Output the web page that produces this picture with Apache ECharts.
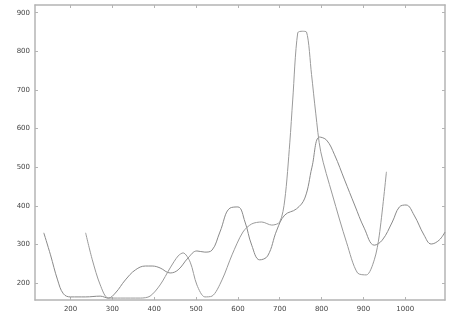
<!DOCTYPE html>
<html>
<head>
<meta charset="utf-8">
<script src="https://cdn.jsdelivr.net/npm/echarts@6/dist/echarts.min.js"></script>
<style>
  html, body { margin: 0; padding: 0; background: #fff; }
  #chart { width: 449px; height: 320px; }
</style>
</head>
<body>
<div id="chart"></div>
<script>
// tick labels
var xTicks = [200, 300, 400, 500, 600, 700, 800, 900, 1000];
var yTicks = [200, 300, 400, 500, 600, 700, 800, 900];

// first curve (smooth, runs to the right edge)
var s1x = [136, 152, 169, 183, 200, 236, 271, 290, 307, 331, 355, 379, 395, 414, 438, 457, 481, 502, 521, 538, 557, 581, 600, 617, 633, 652, 671, 693, 712, 740, 760, 777, 795, 812, 831, 855, 879, 902, 926, 945, 969, 986, 1002, 1021, 1045, 1062, 1081, 1095];
var s1y = [330, 273, 208, 172, 164, 164, 166, 161, 174, 208, 234, 244, 244, 239, 226, 234, 265, 283, 280, 285, 332, 394, 397, 358, 298, 260, 270, 337, 376, 392, 420, 500, 578, 570, 532, 467, 402, 342, 298, 311, 358, 397, 402, 376, 324, 301, 311, 332];

// second curve (sharp peak near 750)
var s2x = [236, 252, 271, 290, 319, 367, 390, 414, 438, 457, 469, 486, 502, 521, 538, 562, 586, 612, 633, 657, 681, 700, 712, 724, 731, 743, 754, 764, 776, 786, 798, 826, 860, 886, 907, 926, 938, 955];
var s2y = [330, 260, 195, 161, 161, 161, 166, 195, 239, 270, 278, 254, 195, 164, 166, 208, 273, 332, 353, 358, 350, 358, 415, 563, 674, 848, 852, 850, 740, 640, 540, 428, 304, 226, 221, 260, 324, 488];

function pairs(xs, ys) {
  var out = [];
  for (var i = 0; i < xs.length; i++) out.push([xs[i], ys[i]]);
  return out;
}

var frame = { show: true, lineStyle: { color: '#b4b4b4', width: 1.5 } };
var tick = { inside: true, length: 3, lineStyle: { color: '#b4b4b4' } };
var label = { fontSize: 7, color: '#444', fontFamily: 'DejaVu Sans', formatter: function (v) { return String(v); } };

var myChart = echarts.init(document.getElementById('chart'));
myChart.setOption({
  animation: false,
  grid: { left: 35, right: 4, top: 5, bottom: 20 },
  xAxis: [
    {
      type: 'value', min: 115, max: 1095,
      axisLine: frame,
      axisTick: Object.assign({ customValues: xTicks }, tick),
      axisLabel: Object.assign({ customValues: xTicks, margin: 6 }, label),
      splitLine: { show: false }
    },
    {
      type: 'value', position: 'top', min: 115, max: 1095,
      axisLine: frame,
      axisTick: Object.assign({ customValues: xTicks }, tick),
      axisLabel: { show: false },
      splitLine: { show: false }
    }
  ],
  yAxis: [
    {
      type: 'value', min: 156, max: 920,
      axisLine: frame,
      axisTick: Object.assign({ customValues: yTicks }, tick),
      axisLabel: Object.assign({ customValues: yTicks, margin: 5 }, label),
      splitLine: { show: false }
    },
    {
      type: 'value', position: 'right', min: 156, max: 920,
      axisLine: frame,
      axisTick: Object.assign({ customValues: yTicks }, tick),
      axisLabel: { show: false },
      splitLine: { show: false }
    }
  ],
  series: [
    {
      type: 'line', smooth: 0.4, showSymbol: false,
      data: pairs(s1x, s1y),
      lineStyle: { color: '#8a8a8a', width: 1 }
    },
    {
      type: 'line', smooth: 0.3, showSymbol: false,
      data: pairs(s2x, s2y),
      lineStyle: { color: '#9a9a9a', width: 1 }
    }
  ]
});
</script>
</body>
</html>
